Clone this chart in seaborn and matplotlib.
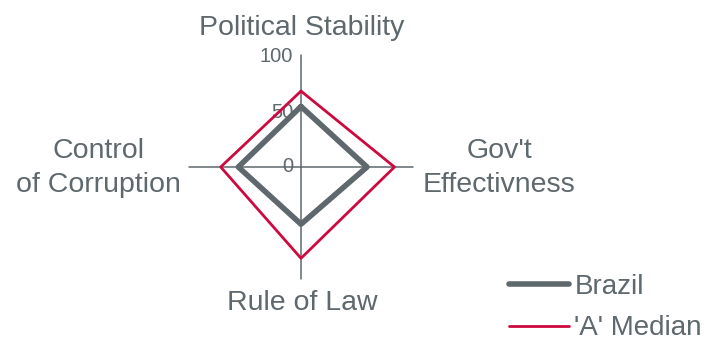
import numpy as np
import matplotlib
matplotlib.use("Agg")
import matplotlib.pyplot as plt
import seaborn as sns
import pandas as pd

# chart data
axis_labels = ["Political Stability", "Gov't\nEffectivness", "Rule of Law", "Control\nof Corruption"]
brazil = [55, 60, 52, 57]
a_median = [69, 85, 83, 73]
r_ticks = [0, 50, 100]

GRAY = "#5e686d"
RED = "#cc0a3f"
W, H = 708, 341

sns.set_theme(style="white")
plt.rcParams["font.family"] = ["Liberation Sans", "DejaVu Sans"]

fig = plt.figure(figsize=(W / 100, H / 100), dpi=100)
cx, cy, rad = 301, 167, 110
ax = fig.add_axes([(cx - rad) / W, 1 - (cy + rad) / H, 2 * rad / W, 2 * rad / H],
                  projection="polar")
ax.set_theta_zero_location("N")
ax.set_theta_direction(-1)
ax.set_rlim(0, 100)
ax.grid(False)
ax.set_xticks([])
ax.set_yticks([])
ax.spines["polar"].set_visible(False)
ax.patch.set_alpha(0)

angles = np.arange(len(axis_labels)) * 2 * np.pi / len(axis_labels)

# spokes
for a in angles:
    ax.plot([a, a], [0, 102], color=GRAY, lw=1.1, clip_on=False, zorder=1)


def closed(vals):
    return pd.DataFrame({"theta": np.append(angles, 2 * np.pi),
                         "r": vals + vals[:1]})


sns.lineplot(data=closed(brazil), x="theta", y="r", sort=False, estimator=None,
             color=GRAY, lw=4.0, ax=ax, label="Brazil", zorder=3)
sns.lineplot(data=closed(a_median), x="theta", y="r", sort=False, estimator=None,
             color=RED, lw=2.0, ax=ax, label="'A' Median", zorder=3)
ax.set_xlabel("")
ax.set_ylabel("")

handles, labels = ax.get_legend_handles_labels()
ax.get_legend().remove()
for h in handles:
    h.set_solid_capstyle("round")
fig.legend(handles, labels, loc="upper left", bbox_to_anchor=(509 / W, 1 - 274 / H),
           frameon=False, fontsize=20, handlelength=2.15, handletextpad=0.2,
           labelspacing=0.55, borderpad=0, borderaxespad=0, labelcolor=GRAY)

# radial tick labels
for t in r_ticks:
    ax.annotate(str(t), xy=(0, t), xytext=(-8, 0), textcoords="offset pixels",
                ha="right", va="center", fontsize=14.5, color=GRAY,
                annotation_clip=False, zorder=2)


def px(x, y):
    return x / W, 1 - y / H


label_pos = [(302, 28), (499, 168), (302, 303), (98, 168)]
for lab, (x, y) in zip(axis_labels, label_pos):
    fig.text(*px(x, y), lab, ha="center", va="center", multialignment="center",
             fontsize=20.5, color=GRAY, linespacing=1.45)

fig.savefig("out.png", dpi=100)
